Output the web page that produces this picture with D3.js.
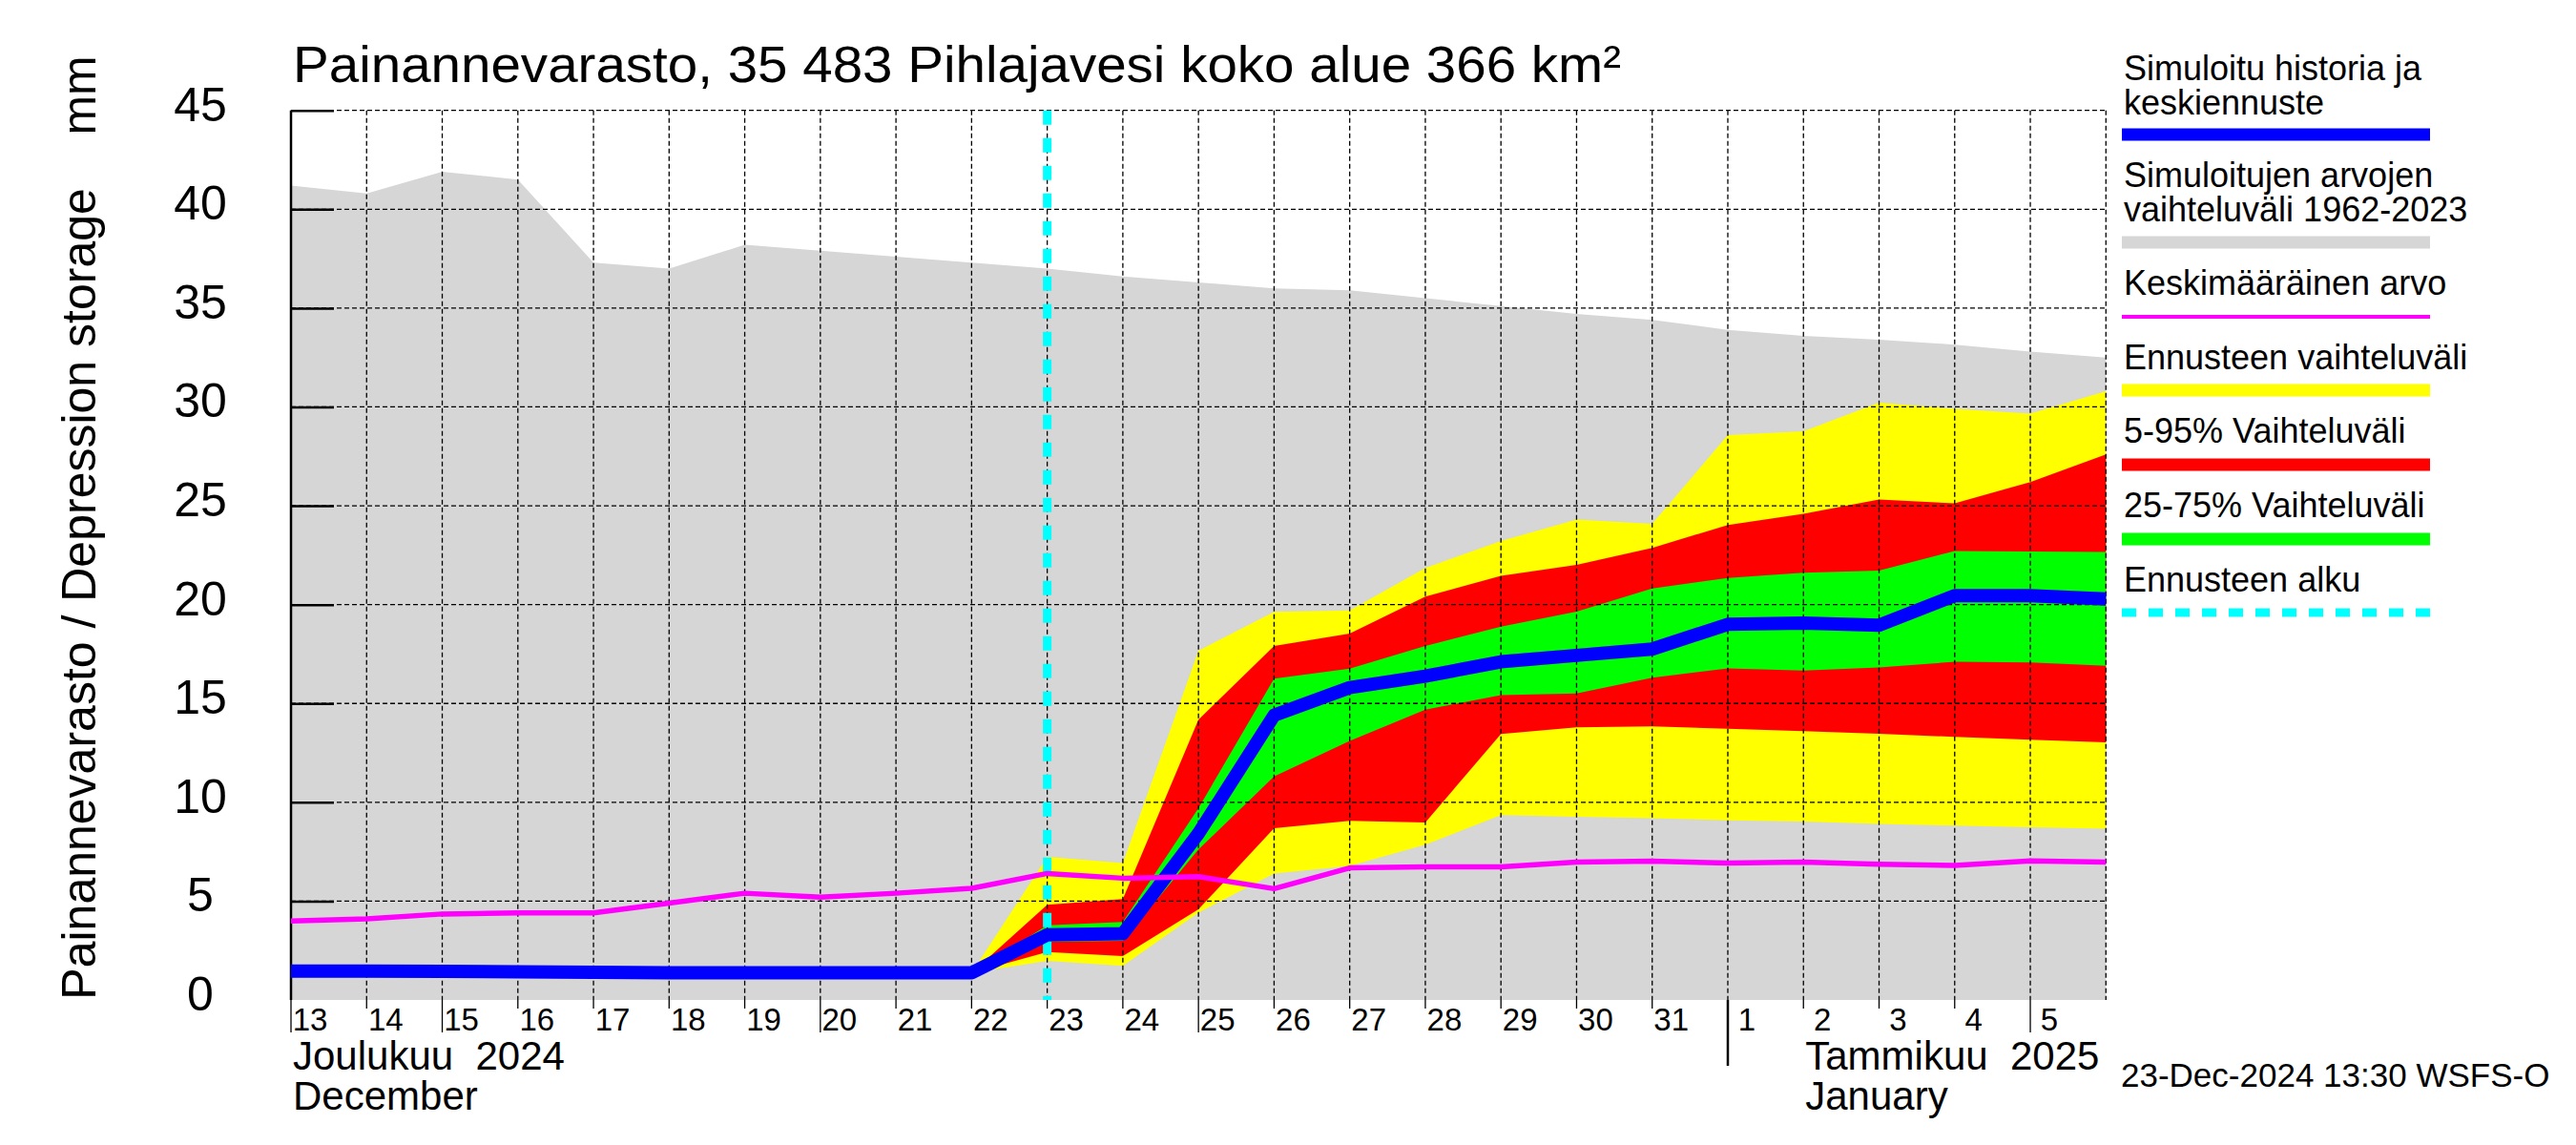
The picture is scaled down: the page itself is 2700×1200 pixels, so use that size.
<!DOCTYPE html>
<html>
<head>
<meta charset="utf-8">
<script src="https://cdn.jsdelivr.net/npm/d3@7/dist/d3.min.js"></script>
<style>
  html, body { margin: 0; padding: 0; background: #ffffff; }
  svg { display: block; }
  text { font-family: "Liberation Sans", Arial, Helvetica, sans-serif; fill: #000; }
</style>
</head>
<body>
<svg id="chart" width="2700" height="1200"></svg>
<script>
// ---------------- data ----------------
const startDate = "2024-12-13";
const dayLabels = ["13","14","15","16","17","18","19","20","21","22","23","24","25","26","27","28","29","30","31","1","2","3","4","5"];
const longTickDays = ["13","15","20","25","5"];
const yTicks = [0,5,10,15,20,25,30,35,40,45];

// historical simulated range 1962-2023 (one value per day, Dec 13 .. Jan 6)
const histMax = [41.2, 40.8, 41.9, 41.5, 37.3, 37.0, 38.2, 37.9, 37.6, 37.3, 37.0, 36.6, 36.3, 36.0, 35.9, 35.5, 35.1, 34.7, 34.4, 33.9, 33.6, 33.4, 33.15, 32.8, 32.5];
const histMin = [0,0,0,0,0,0,0,0,0,0,0,0,0,0,0,0,0,0,0,0,0,0,0,0,0];
// mean value
const meanVals = [4.0, 4.1, 4.35, 4.4, 4.4, 4.9, 5.4, 5.2, 5.4, 5.65, 6.4, 6.16, 6.24, 5.63, 6.68, 6.73, 6.73, 6.97, 7.02, 6.93, 6.97, 6.87, 6.80, 7.04, 6.97];
// simulated history (Dec 13 .. Dec 22)
const simHistory = [1.46, 1.46, 1.45, 1.42, 1.40, 1.38, 1.38, 1.38, 1.37, 1.37];
// forecast (Dec 22 .. Jan 6)
const fcMedian   = [1.37, 3.30, 3.35, 8.42, 14.40, 15.80, 16.38, 17.11, 17.43, 17.75, 19.00, 19.07, 18.96, 20.45, 20.45, 20.28];
const fcMax      = [1.37, 7.24, 6.93, 17.67, 19.63, 19.71, 21.85, 23.22, 24.30, 24.08, 28.57, 28.77, 30.22, 29.90, 29.66, 30.79];
const fcMin      = [1.37, 1.98, 1.73, 4.42, 6.40, 6.78, 7.85, 9.35, 9.27, 9.19, 9.09, 9.03, 8.90, 8.82, 8.74, 8.66];
const fcP95      = [1.37, 4.82, 5.11, 14.18, 17.91, 18.53, 20.41, 21.45, 22.01, 22.87, 24.03, 24.59, 25.32, 25.12, 26.20, 27.60];
const fcP05      = [1.37, 2.43, 2.22, 4.58, 8.69, 9.06, 8.98, 13.45, 13.79, 13.84, 13.72, 13.60, 13.47, 13.31, 13.16, 13.03];
const fcP75      = [1.37, 3.78, 3.94, 9.70, 16.25, 16.76, 17.91, 18.88, 19.65, 20.81, 21.35, 21.61, 21.72, 22.71, 22.69, 22.66];
const fcP25      = [1.37, 2.94, 2.99, 7.61, 11.31, 13.10, 14.69, 15.42, 15.50, 16.30, 16.77, 16.66, 16.82, 17.11, 17.07, 16.90];
const forecastStart = "2024-12-23";

const titleText = "Painannevarasto, 35 483 Pihlajavesi koko alue 366 km²";
const yAxisTitle = "Painannevarasto / Depression storage    mm";
const monthLabels = [
  {date: "2024-12-13", fi: "Joulukuu  2024", en: "December"},
  {date: "2025-01-02", fi: "Tammikuu  2025", en: "January"}
];
const monthBoundary = "2025-01-01";
const stamp = "23-Dec-2024 13:30 WSFS-O";
const legendItems = [
  {lines: ["Simuloitu historia ja", "keskiennuste"], color: "#0000ff", type: "bar"},
  {lines: ["Simuloitujen arvojen", "vaihteluväli 1962-2023"], color: "#d6d6d6", type: "bar"},
  {lines: ["Keskimääräinen arvo"], color: "#ff00ff", type: "thin"},
  {lines: ["Ennusteen vaihteluväli"], color: "#ffff00", type: "bar"},
  {lines: ["5-95% Vaihteluväli"], color: "#ff0000", type: "bar"},
  {lines: ["25-75% Vaihteluväli"], color: "#00ff00", type: "bar"},
  {lines: ["Ennusteen alku"], color: "#00ffff", type: "dash"}
];

// ---------------- layout ----------------
const parse = d3.utcParse("%Y-%m-%d");
const t0 = parse(startDate);
const allDays = d3.utcDay.range(t0, d3.utcDay.offset(t0, 25));       // Dec13..Jan6
const histDays = allDays.slice(0, 10);
const fcDays = allDays.slice(9);
const tickDays = allDays.slice(0, 24);

const L = 305, R = 2207.3, T = 115.7, B = 1048;
const x = d3.scaleUtc().domain([t0, allDays[24]]).range([L, R]);
const y = d3.scaleLinear().domain([0, 45]).range([B, T]);

const svg = d3.select("#chart");
const g = svg.append("g");

// gray historical range
g.append("path")
  .datum(allDays.map((d, i) => ({d, lo: histMin[i], hi: histMax[i]})))
  .attr("fill", "#d6d6d6")
  .attr("d", d3.area().x(p => x(p.d)).y0(p => y(p.lo)).y1(p => y(p.hi)));

// forecast bands
const bands = [
  {lo: fcMin, hi: fcMax, color: "#ffff00"},
  {lo: fcP05, hi: fcP95, color: "#ff0000"},
  {lo: fcP25, hi: fcP75, color: "#00ff00"}
];
bands.forEach(b => {
  g.append("path")
    .datum(fcDays.map((d, i) => ({d, lo: b.lo[i], hi: b.hi[i]})))
    .attr("fill", b.color)
    .attr("d", d3.area().x(p => x(p.d)).y0(p => y(p.lo)).y1(p => y(p.hi)));
});

// grid
const grid = g.append("g").attr("stroke", "#000").attr("stroke-width", 1.3).attr("stroke-dasharray", "5,3").attr("fill", "none");
allDays.forEach(d => {
  grid.append("line").attr("x1", x(d)).attr("x2", x(d)).attr("y1", T).attr("y2", B);
});
yTicks.filter(v => v > 0).forEach(v => {
  grid.append("line").attr("x1", L).attr("x2", R).attr("y1", y(v)).attr("y2", y(v));
});

// y axis (solid line + inward ticks)
const yAxis = d3.axisRight(y).tickValues(yTicks.filter(v => v > 0)).tickSize(45).tickFormat("");
const ya = g.append("g").attr("transform", `translate(${L},0)`).call(yAxis);
ya.select(".domain").remove();
ya.selectAll("line").attr("stroke", "#000").attr("stroke-width", 2.5);
g.append("line").attr("x1", L).attr("x2", L).attr("y1", T).attr("y2", B).attr("stroke", "#000").attr("stroke-width", 2.5);

// y tick labels
yTicks.forEach(v => {
  g.append("text").attr("x", 210).attr("y", y(v) - 6)
    .attr("text-anchor", "middle").attr("dominant-baseline", "central")
    .attr("font-size", 50).text(v);
});

// forecast start line
g.append("line")
  .attr("x1", x(parse(forecastStart))).attr("x2", x(parse(forecastStart)))
  .attr("y1", T).attr("y2", B)
  .attr("stroke", "#00ffff").attr("stroke-width", 9).attr("stroke-dasharray", "15,14");

// simulated history + median forecast
const line = d3.line().x(p => x(p.d)).y(p => y(p.v));
const blueData = histDays.map((d, i) => ({d, v: simHistory[i]}))
  .concat(fcDays.slice(1).map((d, i) => ({d, v: fcMedian[i + 1]})));
g.append("path").datum(blueData).attr("d", line)
  .attr("fill", "none").attr("stroke", "#0000ff").attr("stroke-width", 14)
  .attr("stroke-linejoin", "round");

// mean
g.append("path").datum(allDays.map((d, i) => ({d, v: meanVals[i]}))).attr("d", line)
  .attr("fill", "none").attr("stroke", "#ff00ff").attr("stroke-width", 5.5)
  .attr("stroke-linejoin", "round");

// x ticks
const xt = g.append("g").attr("stroke", "#000").attr("stroke-width", 1.3);
tickDays.forEach((d, i) => {
  const isLong = longTickDays.includes(dayLabels[i]);
  xt.append("line").attr("x1", x(d)).attr("x2", x(d)).attr("y1", B).attr("y2", isLong ? 1082 : 1057);
  g.append("text").attr("x", x(d) + 20).attr("y", 1080).attr("text-anchor", "middle")
    .attr("font-size", 33).text(dayLabels[i]);
});
g.append("line").attr("x1", x(parse(monthBoundary))).attr("x2", x(parse(monthBoundary)))
  .attr("y1", B).attr("y2", 1117).attr("stroke", "#000").attr("stroke-width", 2.5);

monthLabels.forEach(m => {
  const mx = x(parse(m.date)) + 2;
  g.append("text").attr("x", mx).attr("y", 1121).attr("font-size", 42).style("white-space", "pre").text(m.fi);
  g.append("text").attr("x", mx).attr("y", 1163).attr("font-size", 42).text(m.en);
});

// title
g.append("text").attr("x", 307).attr("y", 86).attr("font-size", 54)
  .attr("textLength", 1392).attr("lengthAdjust", "spacingAndGlyphs").text(titleText);

// y axis title
g.append("text").attr("transform", "translate(100,553) rotate(-90)")
  .attr("text-anchor", "middle").attr("font-size", 50).style("white-space", "pre").text(yAxisTitle);

// timestamp
g.append("text").attr("x", 2223).attr("y", 1139).attr("font-size", 35).text(stamp);

// legend
const lg = g.append("g");
const legBaselines = [[84, 120], [196, 232], [309], [387], [464], [542], [620]];
const legBars = [141, 254, 332, 409, 487, 565, 642];
legendItems.forEach((it, i) => {
  it.lines.forEach((ln, j) => {
    lg.append("text").attr("x", 2226).attr("y", legBaselines[i][j]).attr("font-size", 36).text(ln);
  });
  const bl = lg.append("line").attr("x1", 2224).attr("x2", 2547)
    .attr("y1", legBars[i]).attr("y2", legBars[i]).attr("stroke", it.color);
  if (it.type === "bar") bl.attr("stroke-width", 13);
  else if (it.type === "thin") bl.attr("stroke-width", 4);
  else bl.attr("stroke-width", 9).attr("stroke-dasharray", "15,13");
});
</script>
</body>
</html>
